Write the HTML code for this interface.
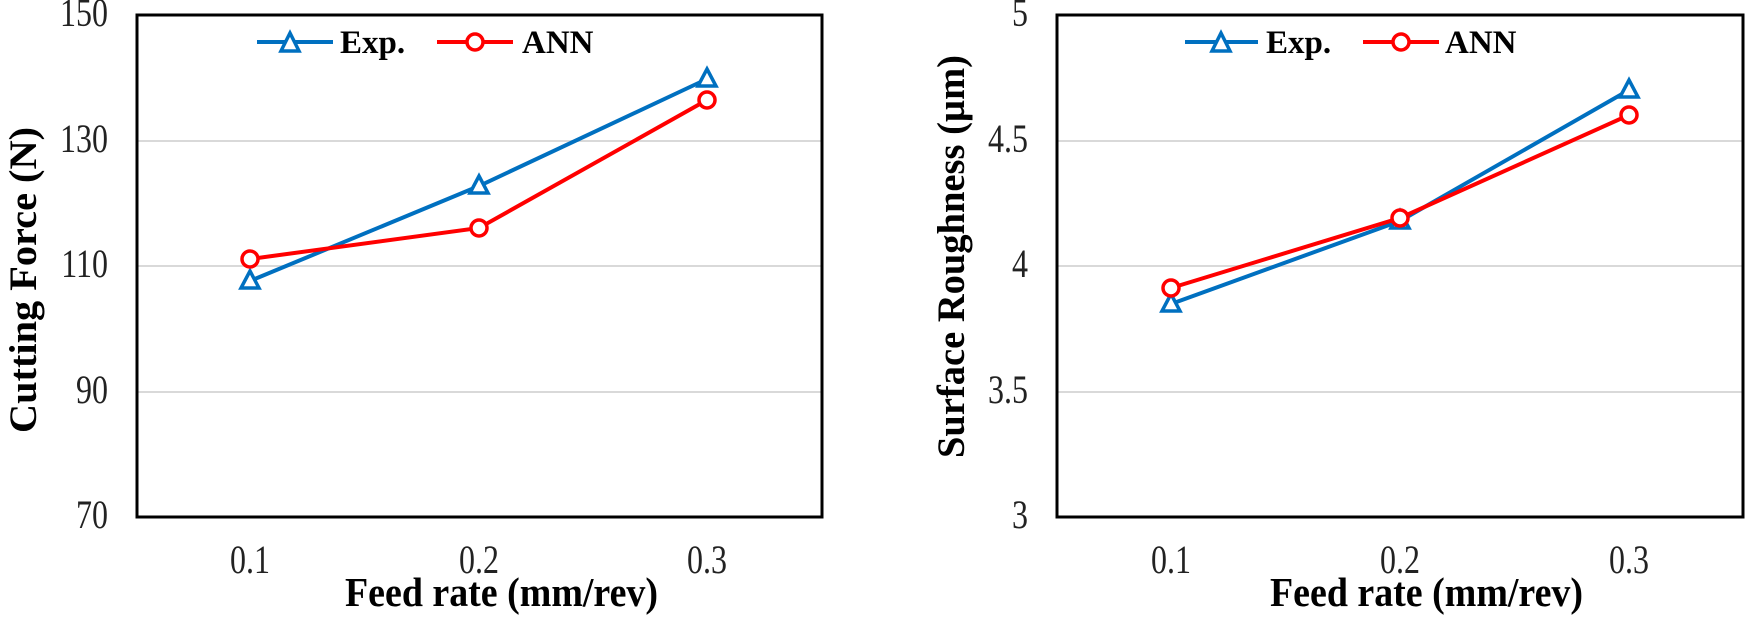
<!DOCTYPE html>
<html><head><meta charset="utf-8"><style>html,body{margin:0;padding:0;background:#fff}svg{display:block}</style></head><body>
<svg width="1750" height="619" viewBox="0 0 1750 619" xmlns="http://www.w3.org/2000/svg" font-family="'Liberation Serif', serif">
<!-- LEFT CHART -->
<g>
<line x1="137" y1="141" x2="822" y2="141" stroke="#d9d9d9" stroke-width="2"/>
<line x1="137" y1="266" x2="822" y2="266" stroke="#d9d9d9" stroke-width="2"/>
<line x1="137" y1="392" x2="822" y2="392" stroke="#d9d9d9" stroke-width="2"/>
<rect x="137" y="15" width="685" height="502" fill="none" stroke="#000" stroke-width="3"/>
<g font-size="32" text-anchor="end" fill="#222">
<text transform="translate(108,26) scale(1,1.25)">150</text>
<text transform="translate(108,152) scale(1,1.25)">130</text>
<text transform="translate(108,277) scale(1,1.25)">110</text>
<text transform="translate(108,403) scale(1,1.25)">90</text>
<text transform="translate(108,528) scale(1,1.25)">70</text>
</g>
<g font-size="32" text-anchor="middle" fill="#222">
<text transform="translate(250,573) scale(1,1.25)">0.1</text>
<text transform="translate(479,573) scale(1,1.25)">0.2</text>
<text transform="translate(707,573) scale(1,1.25)">0.3</text>
</g>
<text transform="translate(345,606) scale(1,1.15)" font-size="36" font-weight="bold" textLength="313" lengthAdjust="spacingAndGlyphs">Feed rate (mm/rev)</text>
<text transform="translate(36,433) rotate(-90)" font-size="39" font-weight="bold" textLength="306" lengthAdjust="spacingAndGlyphs">Cutting  Force (N)</text>
<polyline points="250,281 479,186 707,79" fill="none" stroke="#0070c0" stroke-width="4"/>
<polyline points="250,259 479,228 707,100" fill="none" stroke="#ff0000" stroke-width="4"/>
<g fill="#fff" stroke="#0070c0" stroke-width="3.5">
<polygon points="250,271 259,288 241,288"/><polygon points="479,176 488,193 470,193"/><polygon points="707,69 716,86 698,86"/>
</g>
<g fill="#fff" stroke="#ff0000" stroke-width="3.5">
<circle cx="250" cy="259" r="8"/><circle cx="479" cy="228" r="8"/><circle cx="707" cy="100" r="8"/>
</g>
<line x1="257" y1="42" x2="333" y2="42" stroke="#0070c0" stroke-width="4"/>
<polygon points="290,33 299,51 281,51" fill="#fff" stroke="#0070c0" stroke-width="3.5"/>
<text x="340" y="53" font-size="33" font-weight="bold">Exp.</text>
<line x1="437" y1="42" x2="513" y2="42" stroke="#ff0000" stroke-width="4"/>
<circle cx="475" cy="42" r="8" fill="#fff" stroke="#ff0000" stroke-width="3.5"/>
<text x="522" y="53" font-size="33" font-weight="bold">ANN</text>
</g>
<!-- RIGHT CHART -->
<g>
<line x1="1057" y1="141" x2="1743" y2="141" stroke="#d9d9d9" stroke-width="2"/>
<line x1="1057" y1="266" x2="1743" y2="266" stroke="#d9d9d9" stroke-width="2"/>
<line x1="1057" y1="392" x2="1743" y2="392" stroke="#d9d9d9" stroke-width="2"/>
<rect x="1057" y="15" width="686" height="502" fill="none" stroke="#000" stroke-width="3"/>
<g font-size="32" text-anchor="end" fill="#222">
<text transform="translate(1028,26) scale(1,1.25)">5</text>
<text transform="translate(1028,152) scale(1,1.25)">4.5</text>
<text transform="translate(1028,277) scale(1,1.25)">4</text>
<text transform="translate(1028,403) scale(1,1.25)">3.5</text>
<text transform="translate(1028,528) scale(1,1.25)">3</text>
</g>
<g font-size="32" text-anchor="middle" fill="#222">
<text transform="translate(1171,573) scale(1,1.25)">0.1</text>
<text transform="translate(1400,573) scale(1,1.25)">0.2</text>
<text transform="translate(1629,573) scale(1,1.25)">0.3</text>
</g>
<text transform="translate(1270,606) scale(1,1.15)" font-size="36" font-weight="bold" textLength="313" lengthAdjust="spacingAndGlyphs">Feed rate (mm/rev)</text>
<text transform="translate(964,458) rotate(-90)" font-size="39" font-weight="bold" textLength="403" lengthAdjust="spacingAndGlyphs">Surface  Roughness (µm)</text>
<polyline points="1171,304 1400,221 1629,90" fill="none" stroke="#0070c0" stroke-width="4"/>
<polyline points="1171,288 1400,218 1629,115" fill="none" stroke="#ff0000" stroke-width="4"/>
<g fill="#fff" stroke="#0070c0" stroke-width="3.5">
<polygon points="1171,294 1180,311 1162,311"/><polygon points="1400,211 1409,228 1391,228"/><polygon points="1629,80 1638,97 1620,97"/>
</g>
<g fill="#fff" stroke="#ff0000" stroke-width="3.5">
<circle cx="1171" cy="288" r="8"/><circle cx="1400" cy="218" r="8"/><circle cx="1629" cy="115" r="8"/>
</g>
<line x1="1185" y1="42" x2="1258" y2="42" stroke="#0070c0" stroke-width="4"/>
<polygon points="1221,33 1230,51 1212,51" fill="#fff" stroke="#0070c0" stroke-width="3.5"/>
<text x="1266" y="53" font-size="33" font-weight="bold">Exp.</text>
<line x1="1363" y1="42" x2="1439" y2="42" stroke="#ff0000" stroke-width="4"/>
<circle cx="1401" cy="42" r="8" fill="#fff" stroke="#ff0000" stroke-width="3.5"/>
<text x="1445" y="53" font-size="33" font-weight="bold">ANN</text>
</g>
</svg>
</body></html>
